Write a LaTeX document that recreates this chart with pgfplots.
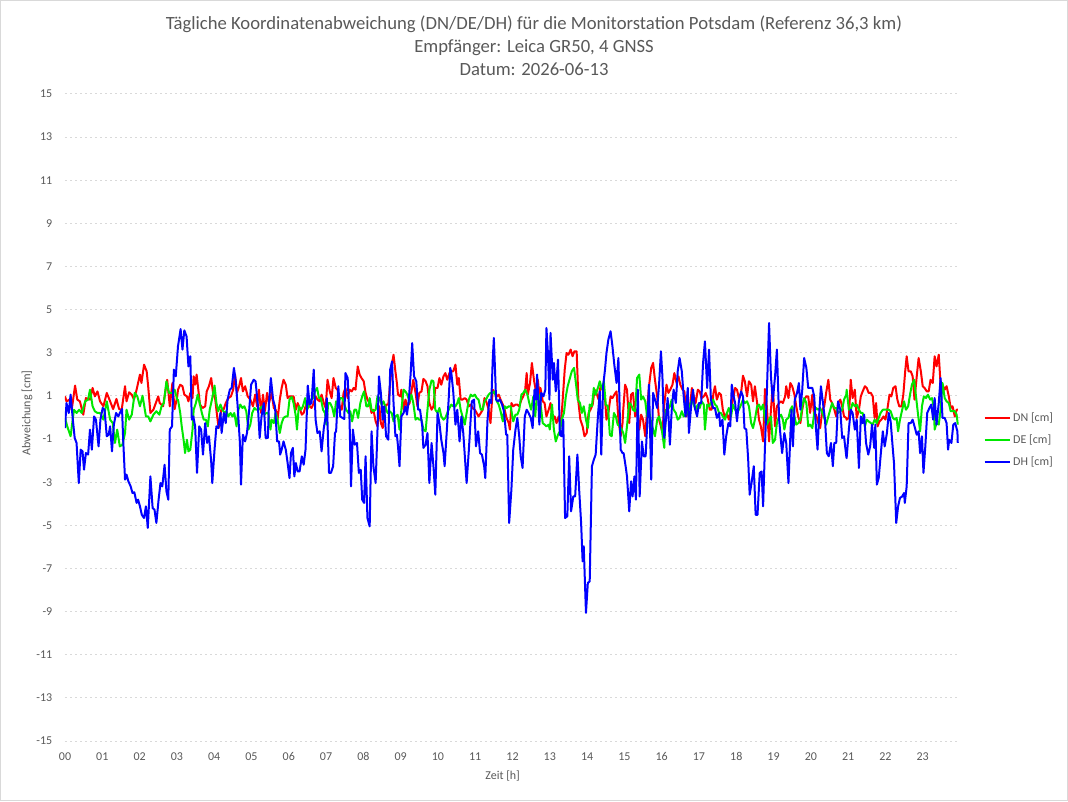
\documentclass[border=0pt]{standalone}
\usepackage{fontspec}
\setmainfont{Carlito}
\usepackage{pgfplots}
\pgfplotsset{compat=1.18}
\definecolor{txt}{RGB}{89,89,89}
\definecolor{gridc}{RGB}{217,217,217}
\definecolor{zeroc}{RGB}{205,205,205}
\definecolor{dn}{RGB}{255,0,0}
\definecolor{de}{RGB}{0,232,0}
\definecolor{dh}{RGB}{0,0,255}
\begin{document}
\begin{tikzpicture}[x=1pt,y=1pt]
\path[use as bounding box] (0,0) rectangle (801,600.75);
\draw[color=gridc, line width=0.75pt] (0.4,0.4) rectangle (800.6,600.35);
\node[font=\fontsize{14}{17}\selectfont, text=txt, anchor=base] at (400.5,578.6) {Tägliche Koordinatenabweichung (DN/DE/DH) für die Monitorstation Potsdam (Referenz 36,3 km)};
\node[font=\fontsize{14}{17}\selectfont, text=txt, anchor=base] at (400.5,561.4) {Empfänger: Leica GR50, 4 GNSS};
\node[font=\fontsize{14}{17}\selectfont, text=txt, anchor=base] at (400.5,544.1) {Datum: 2026-06-13};
\begin{axis}[
  at={(48.75pt,45pt)}, anchor=south west,
  scale only axis, width=671.25pt, height=485.25pt,
  xmin=0, xmax=24, ymin=-15, ymax=15,
  axis line style={draw=none},
  major tick length=0pt,
  tick style={draw=none},
  xtick={0,1,...,23},
  xticklabels={00,01,02,03,04,05,06,07,08,09,10,11,12,13,14,15,16,17,18,19,20,21,22,23},
  ytick={-15,-13,-11,-9,-7,-5,-3,-1,1,3,5,7,9,11,13,15},
  yticklabels={-15,-13,-11,-9,-7,-5,-3,-1,1,3,5,7,9,11,13,15},
  ymajorgrids,
  grid style={color=gridc, line width=0.75pt, dash pattern=on 1.5pt off 2.25pt},
  ticklabel style={font=\fontsize{9}{11}\selectfont, text=txt},
  yticklabel style={anchor=east, xshift=-6pt},
  xticklabel style={anchor=north, yshift=-5pt},
  xlabel={Zeit [h]}, ylabel={Abweichung [cm]},
  label style={font=\fontsize{9}{11}\selectfont, text=txt},
  xlabel style={at={(axis description cs:0.489,-0.0541)}, anchor=center},
  ylabel style={at={(axis description cs:-0.0425,0.507)}, anchor=center},
  legend style={at={(axis description cs:1.026,0.465)}, anchor=west, draw=none, fill=none,
    font=\fontsize{9}{11}\selectfont, text=txt, row sep=4.5pt, inner sep=0pt},
  legend cell align=left,
  legend image code/.code={\draw[#1] (0pt,0pt) -- (18.75pt,0pt);},
  every axis plot/.append style={line width=1.5pt, line join=round, mark=none},
]
\addplot[color=zeroc, line width=0.75pt, forget plot] coordinates {(0,0) (24,0)};
\addplot[color=dn] coordinates {
(0.00,0.98)(0.04,0.75)(0.12,0.83)(0.18,0.36)(0.27,1.48)(0.33,0.83)(0.40,0.75)(0.49,0.13)(0.56,0.90)(0.67,0.83)(0.74,1.37)(0.80,0.98)(0.87,1.21)(0.94,0.75)(1.03,0.52)(1.12,1.14)(1.21,0.75)(1.29,0.39)(1.38,0.86)(1.45,0.39)(1.52,0.36)(1.61,1.45)(1.65,0.75)(1.72,1.17)(1.79,1.06)(1.85,0.83)(1.92,1.29)(2.01,1.99)(2.05,1.60)(2.12,2.45)(2.19,2.14)(2.23,1.45)(2.29,0.21)(2.37,0.36)(2.50,0.98)(2.54,0.67)(2.63,0.52)(2.74,1.75)(2.81,0.52)(2.88,1.60)(2.94,0.39)(3.01,0.98)
(3.03,1.29)(3.09,1.52)(3.15,1.45)(3.20,1.06)(3.27,0.98)(3.31,0.75)(3.36,1.14)(3.42,0.90)(3.45,1.91)(3.49,1.52)(3.53,1.99)(3.58,1.21)(3.62,0.60)(3.69,0.44)(3.76,0.52)(3.80,1.21)(3.86,1.45)(3.92,1.83)(3.97,1.14)(4.03,0.83)(4.07,0.21)(4.12,-0.49)(4.19,0.36)(4.25,0.36)(4.31,0.67)(4.38,0.90)(4.45,0.98)(4.51,1.29)(4.56,1.99)(4.61,1.14)(4.67,1.45)(4.72,1.83)(4.77,1.21)(4.83,1.45)(4.90,0.98)(4.97,0.83)(5.04,0.52)(5.10,1.06)(5.15,0.52)(5.20,1.29)(5.26,0.21)(5.31,1.06)(5.36,0.29)(5.42,1.14)(5.47,0.67)(5.54,1.14)(5.60,0.44)(5.65,0.36)(5.70,-0.10)(5.76,0.83)(5.81,1.37)(5.86,1.75)
(5.92,1.52)(5.97,0.90)(6.02,0.98)(6.08,0.98)(6.13,0.98)(6.19,0.36)(6.24,0.67)(6.29,0.44)(6.35,0.13)(6.40,0.21)(6.45,0.52)(6.51,0.67)(6.56,0.52)(6.61,0.44)(6.67,0.67)(6.72,0.98)(6.77,0.83)(6.83,0.75)(6.88,1.06)(6.94,0.67)(6.99,0.44)(7.04,1.75)(7.10,1.21)(7.15,0.90)(7.20,1.83)(7.26,1.37)(7.31,1.29)(7.36,0.52)(7.42,0.36)(7.47,1.14)(7.52,1.37)(7.58,0.90)(7.63,1.29)(7.69,1.21)(7.74,1.37)(7.79,1.29)(7.85,2.37)(7.90,1.99)(7.95,1.83)(8.01,1.68)(8.06,1.14)(8.11,0.83)(8.17,0.67)(8.22,0.21)(8.27,0.36)(8.33,-0.18)(8.38,-0.41)(8.43,0.52)(8.47,-0.26)(8.52,-0.49)(8.56,0.21)(8.61,0.60)(8.67,0.60)(8.72,1.60)(8.77,2.53)(8.81,2.91)(8.86,2.14)
(8.90,1.60)(8.93,1.06)(8.99,0.98)(9.02,1.29)(9.08,0.36)(9.13,0.83)(9.18,0.52)(9.24,0.67)(9.29,1.21)(9.34,1.75)(9.40,1.14)(9.45,0.52)(9.50,1.14)(9.56,1.21)(9.61,1.79)(9.67,1.68)(9.72,1.45)(9.77,0.67)(9.83,0.36)(9.88,0.52)(9.93,1.37)(9.99,1.37)(10.04,1.83)(10.09,1.52)(10.15,1.91)(10.20,2.06)(10.25,1.75)(10.31,2.06)(10.36,2.14)(10.41,2.14)(10.47,2.45)(10.52,1.52)(10.56,1.83)(10.61,0.83)(10.66,0.83)(10.72,0.90)(10.77,0.83)(10.83,0.52)(10.88,0.60)(10.93,0.44)(10.99,0.36)(11.04,0.21)(11.09,0.05)(11.15,0.21)(11.20,0.36)(11.25,0.90)(11.31,0.67)(11.36,0.36)(11.41,-0.26)(11.47,1.29)(11.52,1.14)(11.58,0.98)(11.63,1.06)(11.68,0.83)(11.74,0.60)(11.79,0.36)(11.84,-0.02)(11.90,-0.26)(11.93,-0.56)(11.97,0.67)
(12.02,0.52)(12.08,0.60)(12.13,0.60)(12.18,0.52)(12.24,0.83)(12.29,0.98)(12.34,1.29)(12.38,2.06)(12.41,1.06)(12.47,1.60)(12.52,2.53)(12.58,1.68)(12.63,1.21)(12.68,1.75)(12.72,1.06)(12.75,1.37)(12.81,0.75)(12.86,0.67)(12.91,0.05)(12.97,0.36)(13.02,0.67)(13.08,-0.10)(13.13,0.05)(13.18,-0.26)(13.24,0.05)(13.29,-0.41)(13.34,0.67)(13.40,2.22)(13.45,2.99)(13.50,2.91)(13.56,3.15)(13.61,2.84)(13.66,3.07)(13.72,3.07)(13.77,0.67)(13.82,-0.10)(13.88,-0.41)(13.93,-0.87)(13.99,-0.72)(14.04,0.21)(14.09,0.36)(14.15,0.60)(14.20,1.29)(14.25,1.14)(14.31,0.83)(14.36,1.45)(14.41,1.45)(14.47,1.14)(14.52,-0.10)(14.57,0.21)(14.63,0.98)(14.68,0.90)(14.73,1.06)(14.79,1.21)(14.84,-0.10)(14.90,-0.87)(14.95,-0.26)
(14.97,0.36)(15.02,1.52)(15.07,1.29)(15.13,-0.26)(15.18,1.06)(15.23,1.14)(15.29,0.05)(15.34,0.36)(15.40,-0.56)(15.45,0.13)(15.50,-0.10)(15.56,-0.87)(15.61,0.36)(15.66,1.45)(15.72,2.30)(15.77,2.53)(15.82,1.75)(15.88,0.98)(15.93,-0.10)(15.98,-0.41)(16.02,-0.72)(16.07,0.60)(16.13,1.52)(16.18,1.14)(16.23,1.29)(16.29,1.52)(16.34,2.06)(16.40,1.60)(16.45,1.91)(16.50,1.52)(16.56,1.29)(16.61,1.21)(16.66,0.05)(16.72,0.36)(16.77,0.67)(16.81,1.37)(16.86,0.98)(16.91,0.67)(16.97,1.29)(17.02,1.21)(17.07,0.90)(17.13,0.98)(17.18,1.14)(17.23,0.90)(17.29,0.36)(17.34,0.36)(17.39,1.14)(17.43,1.45)(17.48,0.83)(17.54,1.14)(17.59,1.06)(17.64,0.36)(17.70,-0.02)(17.75,0.21)(17.80,-0.10)(17.86,0.29)(17.91,0.83)(17.97,1.37)
(18.02,1.29)(18.07,0.90)(18.13,1.14)(18.18,1.94)(18.23,1.68)(18.29,0.98)(18.34,1.68)(18.40,1.52)(18.45,0.75)(18.50,1.45)(18.56,0.67)(18.61,-0.10)(18.66,-0.41)(18.72,-1.11)(18.77,1.32)(18.82,0.52)(18.88,-1.11)(18.93,0.36)(18.98,1.45)(19.04,-0.41)(19.09,0.52)(19.15,0.67)(19.20,0.75)(19.25,0.67)(19.31,0.98)(19.34,1.45)(19.40,0.90)(19.45,1.60)(19.50,1.45)(19.56,1.06)(19.61,0.52)(19.66,0.05)(19.72,-0.26)(19.77,0.36)(19.82,0.83)(19.88,0.98)(19.93,0.98)(19.98,0.21)(20.04,1.06)(20.09,0.05)(20.14,0.13)(20.20,-0.26)(20.25,-0.49)(20.31,0.36)(20.36,0.52)(20.41,1.14)(20.47,1.75)(20.52,0.83)(20.57,0.67)(20.63,0.36)(20.68,0.05)(20.73,0.67)(20.79,0.83)(20.84,0.52)(20.89,0.05)(20.95,-0.02)
(20.96,-0.10)(21.02,-0.02)(21.07,1.75)(21.12,0.90)(21.18,1.29)(21.23,-0.02)(21.29,0.36)(21.34,0.98)(21.39,1.21)(21.45,1.45)(21.50,1.37)(21.55,1.14)(21.61,1.14)(21.66,0.98)(21.71,-0.02)(21.75,0.67)(21.79,-0.41)(21.84,-0.18)(21.89,-0.10)(21.95,0.05)(22.00,-0.10)(22.05,0.36)(22.11,1.06)(22.16,0.98)(22.21,1.37)(22.27,1.45)(22.32,0.83)(22.37,0.52)(22.43,0.52)(22.48,1.06)(22.53,2.14)(22.57,2.84)(22.62,2.14)(22.68,2.14)(22.73,1.91)(22.78,0.83)(22.84,1.91)(22.89,2.76)(22.95,2.14)(23.00,1.45)(23.05,1.37)(23.11,1.21)(23.16,1.21)(23.21,1.75)(23.27,1.60)(23.32,2.84)(23.37,2.37)(23.43,2.91)(23.48,1.52)(23.53,1.52)(23.59,1.29)(23.64,1.45)(23.70,0.98)(23.75,0.44)(23.80,0.52)(23.86,0.05)(23.91,0.36)(23.94,0.36)
};
\addlegendentry{DN [cm]}
\addplot[color=de] coordinates {
(0.00,-0.02)(0.06,-0.41)(0.15,-0.87)(0.24,0.36)(0.31,0.21)(0.38,0.36)(0.45,0.21)(0.54,0.75)(0.62,0.83)(0.67,1.29)(0.74,0.52)(0.80,0.29)(0.87,0.21)(0.94,0.21)(1.03,-0.10)(1.12,0.75)(1.21,-0.10)(1.28,-0.26)(1.34,-1.18)(1.40,-0.56)(1.47,-1.34)(1.54,-1.26)(1.61,-0.72)(1.65,0.36)(1.72,-0.10)(1.79,0.13)(1.87,1.14)(1.94,0.98)(2.01,0.52)(2.08,1.01)(2.17,0.05)(2.23,0.05)(2.29,-0.18)(2.37,0.13)(2.45,0.29)(2.53,0.13)(2.59,0.52)(2.65,0.67)(2.72,1.68)(2.79,1.14)(2.88,1.14)(2.94,1.29)(3.01,0.83)
(3.03,0.83)(3.09,0.21)(3.13,-0.41)(3.18,-1.03)(3.22,-1.65)(3.27,-1.03)(3.31,-1.57)(3.36,-1.49)(3.42,-0.56)(3.45,0.36)(3.51,0.67)(3.56,1.06)(3.61,0.67)(3.67,0.21)(3.72,-0.10)(3.78,-0.10)(3.83,-0.41)(3.88,0.36)(3.94,0.83)(4.01,1.48)(4.06,0.67)(4.11,0.29)(4.17,0.60)(4.22,0.36)(4.28,0.21)(4.33,0.29)(4.38,0.05)(4.44,0.21)(4.49,0.05)(4.54,0.21)(4.60,-0.41)(4.65,0.36)(4.70,0.60)(4.76,0.44)(4.81,0.52)(4.86,0.29)(4.92,-0.56)(4.97,-0.33)(5.02,0.21)(5.08,0.44)(5.13,0.36)(5.19,0.36)(5.24,0.44)(5.29,0.52)(5.35,0.13)(5.40,0.21)(5.45,0.21)(5.51,-0.56)(5.54,-0.10)(5.60,-0.26)(5.65,0.21)(5.70,-0.10)(5.76,-0.72)(5.81,-0.26)(5.86,-0.02)
(5.92,0.05)(5.97,0.05)(6.02,0.83)(6.08,0.95)(6.13,0.67)(6.19,0.05)(6.22,-0.56)(6.27,0.52)(6.33,0.36)(6.38,0.52)(6.44,0.90)(6.49,0.36)(6.54,0.52)(6.60,0.83)(6.65,0.90)(6.70,1.21)(6.76,1.37)(6.81,0.90)(6.86,0.90)(6.92,0.36)(6.97,0.21)(7.01,-0.33)(7.06,0.67)(7.11,0.67)(7.17,0.44)(7.22,0.05)(7.27,0.75)(7.33,0.67)(7.38,0.90)(7.44,0.90)(7.49,0.60)(7.54,0.36)(7.60,0.21)(7.65,0.29)(7.70,-0.18)(7.76,0.36)(7.81,0.36)(7.86,-0.02)(7.92,0.67)(7.97,0.98)(8.02,1.21)(8.08,0.52)(8.13,0.52)(8.17,0.90)(8.22,0.36)(8.27,0.29)(8.33,0.36)(8.38,0.98)(8.43,0.90)(8.49,0.60)(8.54,0.75)(8.60,0.44)(8.65,0.21)(8.70,0.29)(8.76,0.21)(8.81,-0.18)(8.86,0.05)
(8.92,0.13)(8.97,-0.56)(9.02,0.36)(9.08,1.29)(9.13,1.21)(9.18,1.06)(9.24,0.75)(9.29,1.06)(9.34,0.67)(9.40,-0.10)(9.45,-0.02)(9.50,-0.10)(9.56,-0.10)(9.61,-0.56)(9.67,-0.64)(9.72,0.36)(9.77,1.29)(9.83,1.72)(9.88,1.68)(9.93,0.36)(9.99,0.21)(10.04,0.44)(10.09,0.05)(10.15,-0.10)(10.20,-0.02)(10.25,0.21)(10.31,0.44)(10.36,0.60)(10.41,0.52)(10.47,0.52)(10.52,0.67)(10.56,0.90)(10.61,0.36)(10.66,0.05)(10.72,-0.33)(10.77,0.21)(10.83,0.83)(10.88,1.06)(10.93,0.98)(10.99,1.06)(11.04,0.90)(11.09,0.83)(11.15,0.36)(11.20,0.36)(11.25,0.75)(11.31,0.90)(11.36,1.06)(11.41,1.14)(11.47,1.14)(11.52,1.21)(11.58,0.75)(11.63,0.60)(11.68,0.29)(11.74,-0.18)(11.79,0.52)(11.84,0.44)(11.90,0.52)(11.95,0.52)
(12.02,-0.18)(12.08,0.13)(12.13,0.13)(12.18,0.36)(12.24,1.06)(12.29,1.14)(12.34,1.29)(12.40,1.06)(12.45,0.67)(12.50,0.36)(12.56,0.98)(12.61,0.05)(12.66,1.21)(12.72,0.98)(12.77,0.36)(12.81,-0.26)(12.86,-0.33)(12.91,-0.41)(12.97,-0.33)(13.00,-0.56)(13.06,0.60)(13.11,-0.56)(13.16,-1.11)(13.22,-0.80)(13.27,-0.64)(13.32,-0.10)(13.38,0.21)(13.43,0.98)(13.48,1.45)(13.54,1.83)(13.59,2.14)(13.65,2.30)(13.70,1.60)(13.75,0.83)(13.81,0.67)(13.86,0.21)(13.91,0.52)(13.97,-0.10)(14.02,-0.49)(14.07,0.60)(14.13,0.52)(14.18,1.37)(14.23,1.06)(14.29,1.37)(14.34,1.68)(14.40,1.29)(14.45,1.68)(14.50,0.60)(14.56,0.52)(14.61,-0.80)(14.66,-0.87)(14.72,0.21)(14.77,0.05)(14.82,-0.33)(14.88,-0.41)(14.93,-0.56)
(14.97,-0.72)(15.02,-1.18)(15.07,-0.41)(15.13,0.67)(15.18,0.60)(15.23,0.36)(15.29,0.29)(15.34,1.83)(15.40,1.99)(15.45,0.83)(15.50,0.98)(15.56,0.75)(15.61,0.05)(15.66,0.36)(15.72,-0.26)(15.77,-0.56)(15.82,-0.87)(15.88,-0.10)(15.93,0.05)(15.98,-0.26)(16.04,-1.03)(16.07,-1.41)(16.11,0.36)(16.16,0.36)(16.22,0.52)(16.27,0.83)(16.32,0.36)(16.38,0.21)(16.43,-0.10)(16.48,-0.02)(16.54,0.29)(16.59,0.05)(16.64,0.13)(16.70,0.21)(16.75,0.52)(16.81,0.83)(16.86,0.60)(16.91,0.36)(16.97,0.60)(17.02,0.44)(17.07,0.75)(17.13,0.60)(17.16,-0.56)(17.22,0.60)(17.27,0.52)(17.32,0.67)(17.38,0.83)(17.43,0.60)(17.48,0.52)(17.54,0.21)(17.59,0.21)(17.64,0.05)(17.70,-0.10)(17.75,0.21)(17.80,0.44)(17.86,0.05)(17.91,0.60)(17.97,0.36)
(18.02,0.21)(18.07,0.36)(18.13,0.60)(18.18,0.83)(18.23,0.67)(18.29,0.75)(18.34,0.52)(18.40,-0.26)(18.45,-0.49)(18.50,-0.10)(18.56,0.52)(18.61,0.60)(18.66,0.36)(18.72,0.60)(18.77,-0.10)(18.82,-0.33)(18.88,-0.10)(18.93,0.05)(18.98,-1.18)(19.04,-1.03)(19.09,-0.26)(19.15,0.05)(19.20,0.13)(19.25,-0.10)(19.29,-0.56)(19.34,-0.10)(19.40,-0.02)(19.45,0.36)(19.50,0.52)(19.56,0.05)(19.61,-0.33)(19.66,-0.26)(19.72,-0.10)(19.77,0.52)(19.82,0.90)(19.88,0.67)(19.93,-0.41)(19.98,-0.33)(20.04,-0.49)(20.09,0.21)(20.14,0.44)(20.20,0.36)(20.25,0.44)(20.31,0.21)(20.36,-0.02)(20.41,-0.33)(20.47,0.05)(20.52,0.36)(20.57,0.67)(20.63,0.44)(20.68,0.44)(20.73,0.21)(20.79,0.29)(20.84,0.36)(20.89,0.83)(20.95,1.06)
(20.96,1.29)(21.02,0.36)(21.07,0.36)(21.12,0.67)(21.18,0.52)(21.23,0.60)(21.29,0.36)(21.34,0.21)(21.39,0.21)(21.45,-0.41)(21.50,-0.10)(21.55,-0.18)(21.61,-0.26)(21.66,-0.33)(21.71,-0.10)(21.77,-0.26)(21.82,-0.02)(21.87,0.21)(21.93,0.36)(21.98,0.36)(22.04,0.36)(22.09,0.36)(22.14,0.29)(22.20,-0.02)(22.25,-0.10)(22.30,-0.02)(22.34,-0.64)(22.39,-0.10)(22.45,0.36)(22.50,0.75)(22.55,0.36)(22.61,0.52)(22.66,1.06)(22.71,1.52)(22.77,1.75)(22.82,0.98)(22.87,0.21)(22.93,-0.64)(22.98,0.52)(23.03,0.98)(23.09,0.90)(23.14,1.06)(23.20,0.83)(23.25,0.90)(23.30,0.44)(23.32,-0.56)(23.37,-0.26)(23.43,-0.33)(23.48,0.36)(23.53,1.60)(23.59,0.90)(23.64,0.75)(23.70,0.67)(23.75,0.29)(23.80,0.29)(23.86,0.29)(23.91,0.13)(23.94,-0.33)
};
\addlegendentry{DE [cm]}
\addplot[color=dh] coordinates {
(0.00,-0.49)(0.04,0.67)(0.10,0.21)(0.15,1.06)(0.21,-0.10)(0.26,-0.95)(0.31,-1.18)(0.37,-3.04)(0.42,-1.49)(0.47,-1.57)(0.51,-2.42)(0.56,-1.65)(0.62,-1.72)(0.67,-0.56)(0.72,-1.49)(0.78,0.05)(0.83,-0.10)(0.90,-1.34)(0.95,-0.10)(1.01,0.44)(1.06,0.36)(1.12,-0.87)(1.17,-0.80)(1.21,-0.41)(1.26,-1.57)(1.31,-0.33)(1.37,0.21)(1.43,0.05)(1.47,0.21)(1.53,0.39)(1.56,-1.03)(1.61,-2.88)(1.65,-2.65)(1.70,-2.96)(1.76,-3.19)(1.81,-3.50)(1.86,-3.47)(1.92,-3.96)(1.96,-3.81)(2.01,-4.12)(2.06,-4.51)(2.12,-4.66)(2.17,-4.12)(2.22,-5.12)(2.29,-2.73)(2.35,-4.20)(2.40,-4.27)(2.45,-4.89)(2.51,-3.81)(2.56,-3.04)(2.61,-3.19)(2.67,-2.19)(2.72,-3.42)(2.77,-3.81)(2.81,-0.56)(2.87,-0.41)(2.92,2.22)(2.97,1.91)(3.03,3.30)
(3.10,4.10)(3.15,3.15)(3.20,4.04)(3.26,3.76)(3.31,2.37)(3.36,2.84)(3.40,-0.10)(3.44,0.05)(3.49,-0.41)(3.54,-2.57)(3.60,-0.41)(3.65,-0.56)(3.70,-1.72)(3.76,-0.26)(3.81,-1.18)(3.86,-0.87)(3.92,-2.03)(3.95,-3.04)(4.01,-1.49)(4.06,-0.41)(4.11,-0.49)(4.17,0.21)(4.20,-0.72)(4.26,0.21)(4.31,-0.26)(4.36,0.83)(4.42,1.29)(4.47,1.37)(4.53,2.30)(4.58,1.68)(4.63,0.52)(4.69,-1.18)(4.72,-3.11)(4.77,-0.80)(4.83,-1.11)(4.88,-0.72)(4.94,0.36)(4.99,1.52)(5.06,1.75)(5.11,1.68)(5.17,0.60)(5.22,-0.95)(5.27,0.05)(5.33,0.67)(5.38,-0.95)(5.44,-0.95)(5.47,0.67)(5.52,1.83)(5.58,0.83)(5.63,0.52)(5.69,-1.11)(5.74,-1.11)(5.77,-1.72)(5.81,-1.49)(5.86,-1.11)
(5.92,-1.49)(5.97,-2.11)(6.02,-2.81)(6.06,-1.65)(6.11,-1.41)(6.15,-2.73)(6.19,-2.11)(6.24,-2.50)(6.29,-2.50)(6.35,-1.80)(6.40,-2.19)(6.45,-1.49)(6.51,1.48)(6.56,0.60)(6.61,0.67)(6.67,2.22)(6.72,-0.10)(6.77,-0.72)(6.83,-0.64)(6.88,-1.57)(6.94,-0.49)(6.99,0.05)(7.02,0.90)(7.08,-2.57)(7.13,-2.57)(7.19,-2.26)(7.24,-0.72)(7.27,-0.64)(7.33,1.45)(7.38,0.05)(7.44,-0.02)(7.49,-0.07)(7.52,2.06)(7.58,1.83)(7.63,-0.10)(7.67,-3.19)(7.72,-0.56)(7.77,-1.26)(7.83,-1.18)(7.88,-2.57)(7.93,-2.42)(7.97,-3.81)(8.02,-3.96)(8.06,-1.80)(8.11,-4.66)(8.17,-5.05)(8.22,-0.64)(8.27,-2.26)(8.33,-3.04)(8.38,-0.56)(8.42,1.91)(8.47,1.14)(8.52,-0.10)(8.56,0.52)(8.61,-0.87)(8.67,-1.03)(8.72,2.22)(8.77,2.60)(8.81,0.67)(8.86,-0.87)
(8.90,-0.80)(8.93,-1.34)(8.97,-2.26)(9.02,0.05)(9.08,0.21)(9.13,0.52)(9.17,0.13)(9.22,0.83)(9.27,2.06)(9.31,3.45)(9.36,1.91)(9.42,1.68)(9.47,0.36)(9.52,0.36)(9.58,-0.41)(9.61,-1.41)(9.67,-1.26)(9.72,-0.72)(9.77,-3.04)(9.83,-1.18)(9.88,-2.26)(9.93,-3.58)(9.99,0.21)(10.04,-0.26)(10.09,-1.03)(10.15,-1.65)(10.18,-2.26)(10.24,-0.56)(10.29,0.90)(10.33,2.30)(10.36,2.06)(10.41,1.21)(10.47,-0.33)(10.52,0.36)(10.58,-1.11)(10.63,0.05)(10.68,-0.72)(10.74,-2.26)(10.77,-3.04)(10.83,-1.49)(10.88,-0.02)(10.91,0.75)(10.97,0.83)(11.02,-1.34)(11.08,-0.64)(11.13,-1.65)(11.18,-1.72)(11.24,-2.26)(11.27,-2.81)(11.33,-0.10)(11.38,0.83)(11.43,0.67)(11.47,2.68)(11.50,3.69)(11.56,0.83)(11.61,0.75)(11.66,0.83)(11.72,0.60)(11.77,0.29)(11.83,-0.80)(11.86,-0.80)(11.91,-4.89)(11.97,-3.35)
(12.02,-1.49)(12.08,-0.56)(12.13,-0.02)(12.18,-0.87)(12.22,-1.80)(12.27,-2.34)(12.33,0.05)(12.38,0.36)(12.43,0.21)(12.49,-0.02)(12.54,-0.49)(12.59,1.29)(12.63,0.83)(12.66,1.99)(12.72,-0.33)(12.77,1.14)(12.83,0.98)(12.88,1.29)(12.91,4.15)(12.95,2.99)(12.99,0.83)(13.02,3.92)(13.08,1.75)(13.11,2.53)(13.16,1.21)(13.22,2.68)(13.27,-0.80)(13.32,-0.87)(13.36,-0.10)(13.41,-4.66)(13.47,-4.58)(13.52,-1.80)(13.57,-4.35)(13.63,-3.66)(13.68,-3.66)(13.74,-1.72)(13.79,-3.42)(13.84,-4.89)(13.88,-6.67)(13.91,-5.97)(13.97,-9.06)(14.02,-7.67)(14.07,-7.60)(14.13,-2.26)(14.18,-1.96)(14.23,-1.72)(14.29,0.05)(14.34,1.21)(14.38,-1.72)(14.43,1.45)(14.48,2.22)(14.52,2.99)(14.57,3.61)(14.63,4.00)(14.68,3.30)(14.73,2.45)(14.79,1.60)(14.84,2.76)(14.90,-1.49)(14.95,-1.65)
(14.98,-1.65)(15.04,-2.34)(15.07,-2.73)(15.13,-4.35)(15.18,-2.96)(15.22,-3.66)(15.27,-2.73)(15.31,-3.81)(15.36,1.29)(15.41,-3.66)(15.47,-1.11)(15.52,-1.80)(15.57,-1.80)(15.61,-0.41)(15.66,1.52)(15.72,-2.88)(15.77,1.14)(15.82,0.83)(15.88,0.44)(15.93,1.52)(15.98,3.07)(16.02,1.91)(16.07,-0.95)(16.13,0.21)(16.16,0.90)(16.22,-1.26)(16.27,0.36)(16.32,1.29)(16.38,0.67)(16.43,2.14)(16.48,2.76)(16.54,2.14)(16.59,0.98)(16.64,0.05)(16.70,1.37)(16.73,-0.72)(16.79,0.52)(16.84,1.29)(16.89,0.44)(16.95,0.05)(17.00,0.67)(17.06,0.67)(17.11,2.53)(17.16,3.53)(17.22,1.37)(17.27,3.15)(17.32,0.83)(17.38,0.44)(17.43,0.44)(17.48,-0.02)(17.54,0.21)(17.57,-0.41)(17.63,-0.10)(17.68,-1.72)(17.73,-0.87)(17.79,-0.26)(17.84,-0.41)(17.88,1.52)(17.93,0.98)(17.97,0.67)
(18.02,-0.18)(18.07,0.75)(18.13,1.21)(18.18,0.98)(18.22,-0.49)(18.27,-0.56)(18.32,-1.96)(18.36,-3.58)(18.41,-3.04)(18.47,-2.26)(18.52,-4.51)(18.57,-4.51)(18.63,-2.57)(18.68,-2.50)(18.72,-4.12)(18.77,-1.34)(18.82,1.14)(18.88,4.38)(18.93,1.91)(18.98,0.75)(19.04,1.91)(19.09,3.15)(19.15,-0.10)(19.20,-1.11)(19.23,-1.65)(19.29,-0.72)(19.34,-1.18)(19.40,-3.04)(19.45,-0.87)(19.48,0.36)(19.52,-1.34)(19.57,0.83)(19.63,1.14)(19.68,1.60)(19.72,0.36)(19.77,1.29)(19.82,2.76)(19.88,2.30)(19.93,1.37)(19.98,1.37)(20.04,1.37)(20.09,0.98)(20.14,-0.56)(20.18,-1.49)(20.23,0.36)(20.27,1.45)(20.32,0.75)(20.38,-0.10)(20.43,-1.65)(20.48,-1.80)(20.54,-1.18)(20.59,-2.26)(20.63,-1.18)(20.68,-1.18)(20.73,0.75)(20.79,0.36)(20.84,-0.95)(20.89,-0.87)(20.95,-1.80)
(20.96,-1.88)(21.02,-0.56)(21.07,0.36)(21.12,0.21)(21.18,-0.56)(21.23,-0.10)(21.29,-2.34)(21.34,0.05)(21.39,-0.26)(21.43,0.13)(21.48,-1.18)(21.54,-1.72)(21.59,-1.34)(21.64,-0.33)(21.70,-1.41)(21.73,-0.33)(21.77,-3.11)(21.82,-2.81)(21.87,-1.80)(21.93,-0.64)(21.98,-1.34)(22.04,-0.72)(22.09,0.21)(22.14,-0.18)(22.20,-1.49)(22.23,-2.11)(22.29,-4.89)(22.34,-4.12)(22.39,-3.73)(22.45,-3.66)(22.50,-3.50)(22.52,-3.96)(22.57,-3.19)(22.62,-0.26)(22.68,-0.26)(22.73,-0.10)(22.78,-0.41)(22.84,-0.80)(22.89,-0.64)(22.93,-1.65)(22.98,-0.87)(23.02,-2.57)(23.07,-1.34)(23.12,0.21)(23.18,0.44)(23.23,0.60)(23.28,-0.10)(23.32,0.90)(23.37,-0.33)(23.43,0.67)(23.48,1.83)(23.53,-0.02)(23.59,-0.02)(23.64,-0.26)(23.68,-1.49)(23.71,-1.03)(23.77,-1.18)(23.82,-0.33)(23.87,-0.26)(23.93,-0.64)(23.94,-1.18)
};
\addlegendentry{DH [cm]}
\end{axis}
\end{tikzpicture}
\end{document}
